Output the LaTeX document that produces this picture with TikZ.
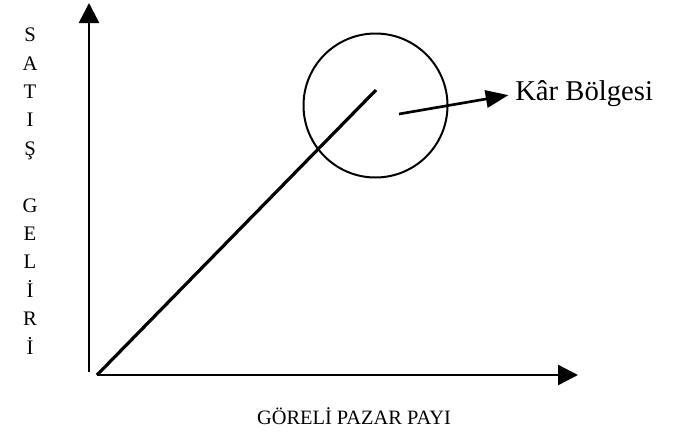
\documentclass[tikz,border=0pt]{standalone}
\usepackage{fontspec}
\setmainfont{Liberation Serif}
\usetikzlibrary{arrows.meta, positioning}

\begin{document}
\begin{tikzpicture}[x=0.75pt, y=-0.75pt,
    eksen/.style={line width=1.8pt, -{Triangle[length=15pt, width=15pt]}},
    dogru/.style={line width=2.4pt},
    bolge/.style={draw, circle, line width=1.5pt, minimum size=108pt, inner sep=0pt},
    ok/.style={line width=2pt, -{Triangle[length=17pt, width=13pt]}, shorten >=5pt},
    harf/.style={align=center, inner sep=0pt, font=\fontsize{15.5}{21.3}\selectfont},
    etiket/.style={inner sep=0pt, font=\fontsize{15.3}{18}\selectfont}]
  \useasboundingbox (0,0) rectangle (683,440);
  % eksenler
  \coordinate (o) at (97,375);
  \coordinate (ybas) at (89,372);
  \coordinate (yuc) at (89,3);
  \coordinate (xuc) at (578,375);
  \draw[eksen] (ybas) -- (yuc);
  \draw[eksen] (o) -- (xuc);
  % kar bolgesi
  \node[bolge] (bolge) at (375.5,105.5) {};
  \coordinate (tepe) at (376,90);
  \draw[dogru] (o) -- (tepe);
  \coordinate (ic) at (399,114);
  \node[etiket, anchor=west, font=\fontsize{21.5}{24}\selectfont] (kar) at (515,94) {Kâr Bölgesi};
  \draw[ok] (ic) -- (kar.west);
  % eksen yazilari
  \node[harf] (ylbl) at (30,191) {S\\A\\T\\I\\Ş\\[21.3pt]G\\E\\L\\İ\\R\\İ};
  \node[etiket] (xlbl) at (354,416) {GÖRELİ PAZAR PAYI};
\end{tikzpicture}
\end{document}
